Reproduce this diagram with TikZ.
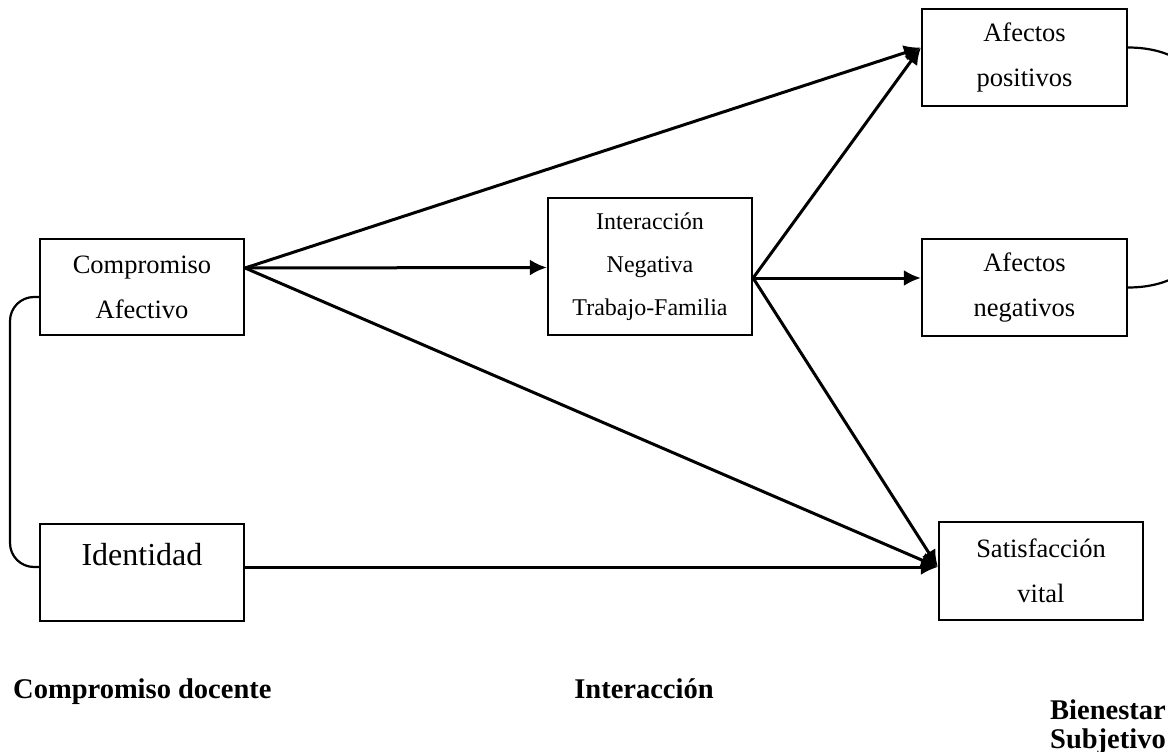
\documentclass[tikz,border=0pt]{standalone}
\usepackage{fontspec}
\setmainfont{Liberation Serif}
\usetikzlibrary{arrows.meta,calc}
\begin{document}
\begin{tikzpicture}[x=1pt,y=-1pt,
  box/.style={draw,line width=2.2pt,rectangle,inner sep=0pt,align=center},
  boxtxt/.style={font={\fontsize{26.5}{45}\selectfont}},
  arr/.style={line width=3pt,-{Latex[length=17pt,width=16pt]}},
  link/.style={line width=2.2pt},
  heading/.style={font={\fontsize{28.5}{31}\selectfont\bfseries},inner sep=0pt}]
\useasboundingbox (0,0) rectangle (1168,752);

% variables
\node[box,boxtxt,minimum width=204pt,minimum height=96pt] (ca) at (142,287) {Compromiso\\Afectivo};
\node[box,minimum width=204pt,minimum height=97pt] (id) at (142,572.5) {};
\node[font={\fontsize{32}{36}\selectfont},anchor=base,inner sep=0pt] (idlbl) at (142,565) {Identidad};
\node[box,font={\fontsize{24}{43}\selectfont},minimum width=204pt,minimum height=137pt] (in) at (650,266.5) {Interacción\\Negativa\\Trabajo-Familia};
\node[box,boxtxt,minimum width=205pt,minimum height=97pt] (ap) at (1024.5,57.5) {Afectos\\positivos};
\node[box,boxtxt,minimum width=205pt,minimum height=97pt] (an) at (1024.5,287.5) {Afectos\\negativos};
\node[box,boxtxt,minimum width=204pt,minimum height=98pt] (sv) at (1041,571) {Satisfacción\\vital};

% ports on the box edges
\coordinate (caout) at ([yshift=19pt]ca.east);
\coordinate (inout) at ([yshift=-11.5pt]in.east);
\coordinate (apin) at ([yshift=10pt]ap.west);
\coordinate (svin) at ([yshift=4pt]sv.west);

% paths
\draw[arr] (caout) -- (apin);
\draw[arr] (caout) -- ([yshift=-1pt]in.west);
\draw[arr] (caout) -- (svin);
\draw[arr] (inout) -- (apin);
\draw[arr] (inout) -- ([yshift=9.5pt]an.west);
\draw[arr] (inout) -- (svin);
\draw[arr] ([yshift=5.5pt]id.east) -- (svin);

% correlation between the two commitment variables
\draw[link,rounded corners=24pt] ([yshift=-10pt]ca.west) -| (10,432) |- ([yshift=5.5pt]id.west);

% correlation between the two affect variables
\begin{scope}
\clip (0,0) rectangle (1168,752);
\coordinate (apr) at ([yshift=10pt]ap.east);
\coordinate (anr) at ([yshift=0pt]an.east);
\draw[link] (apr) .. controls ($(apr)+(46,0)$) and (1200,70) .. (1215,100)
  -- (1215,235) .. controls (1200,265) and ($(anr)+(46,0)$) .. (anr);
\end{scope}

% group headings
\node[heading,anchor=base west] (h1) at (13,698) {Compromiso docente};
\node[heading,anchor=base] (h2) at (644,698) {Interacción};
\node[heading,anchor=base] (h3) at (1108,719) {Bienestar};
\node[heading,anchor=base] (h4) at (1108,748) {Subjetivo};
\end{tikzpicture}
\end{document}
